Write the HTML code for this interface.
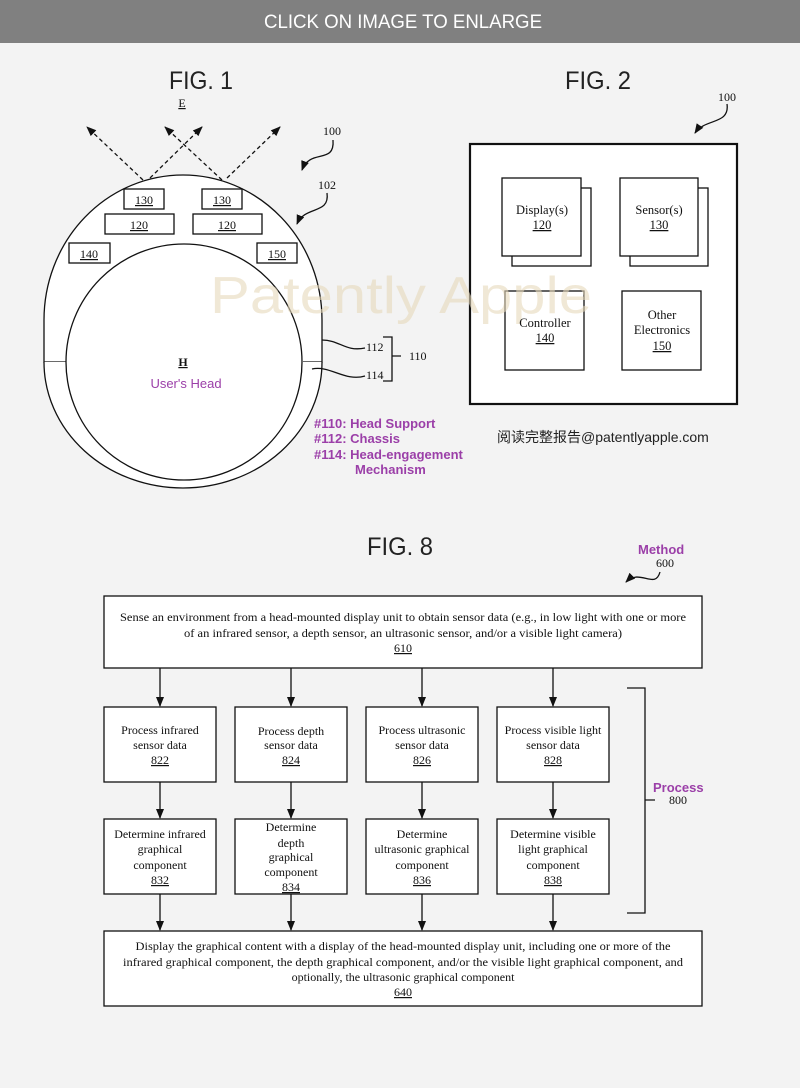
<!DOCTYPE html>
<html><head><meta charset="utf-8"><style>
html,body{margin:0;padding:0;background:#f3f3f3;}
svg{display:block;}
.s{font-family:"Liberation Serif",serif;fill:#111;}
.f{font-family:"Liberation Sans",sans-serif;fill:#222;}
.p{font-family:"Liberation Sans",sans-serif;fill:#9b3fa8;font-weight:bold;}
</style></head><body>
<svg width="800" height="1088" viewBox="0 0 800 1088" xmlns="http://www.w3.org/2000/svg">
<defs>
<marker id="a" markerWidth="10" markerHeight="10" refX="9" refY="5" orient="auto" markerUnits="userSpaceOnUse"><path d="M0,1 L10,5 L0,9 z" fill="#111"/></marker>
</defs>
<rect x="0" y="0" width="800" height="1088" fill="#f3f3f3"/>
<rect x="0" y="0" width="800" height="43" fill="#808080"/>
<text x="403" y="28" text-anchor="middle" class="f" style="fill:#fff;font-size:19px" textLength="278" lengthAdjust="spacingAndGlyphs">CLICK ON IMAGE TO ENLARGE</text>
<text x="201" y="89" text-anchor="middle" class="f" style="font-size:25px" textLength="64" lengthAdjust="spacingAndGlyphs">FIG. 1</text>
<text x="598" y="89" text-anchor="middle" class="f" style="font-size:25px" textLength="66" lengthAdjust="spacingAndGlyphs">FIG. 2</text>
<text x="400" y="555" text-anchor="middle" class="f" style="font-size:25px" textLength="66" lengthAdjust="spacingAndGlyphs">FIG. 8</text>

<!-- FIG 1 -->
<g stroke="#111" stroke-width="1.3" fill="none">
<path d="M66,362 L44,362 L44,320 A139,145 0 0 1 322,320 L322,362 L303,362" fill="#fff"/>
<path d="M44,362 A139,126 0 0 0 322,362" fill="#fff"/>
<circle cx="184" cy="362" r="118" fill="#fff"/>
<rect x="124" y="189" width="40" height="20" fill="#fff"/>
<rect x="202" y="189" width="40" height="20" fill="#fff"/>
<rect x="105" y="214" width="69" height="20" fill="#fff"/>
<rect x="193" y="214" width="69" height="20" fill="#fff"/>
<rect x="69" y="243" width="41" height="20" fill="#fff"/>
<rect x="257" y="243" width="40" height="20" fill="#fff"/>
<g stroke-dasharray="4,3">
<line x1="143" y1="180" x2="87" y2="127" marker-end="url(#a)"/>
<line x1="150" y1="178" x2="202" y2="127" marker-end="url(#a)"/>
<line x1="222" y1="180" x2="165" y2="127" marker-end="url(#a)"/>
<line x1="227" y1="178" x2="280" y2="127" marker-end="url(#a)"/>
</g>
<path d="M333,140 C335,165 310,148 302,170" marker-end="url(#a)"/>
<path d="M327,193 C330,215 305,205 297,224" marker-end="url(#a)"/>
<path d="M322,340 C340,340 345,352 365,348"/>
<path d="M312,369 C330,365 345,382 365,376"/>
<path d="M383,337 L392,337 L392,381 L383,381 M392,356 L401,356"/>
</g>
<g class="s" style="font-size:12px" text-anchor="middle" text-decoration="underline">
<text x="144" y="204">130</text><text x="222" y="204">130</text>
<text x="139" y="229">120</text><text x="227" y="229">120</text>
<text x="89" y="258">140</text><text x="277" y="258">150</text>
<text x="182" y="107">E</text>
<text x="183" y="366" style="font-weight:bold">H</text>
</g>
<g class="s" style="font-size:12px">
<text x="323" y="135">100</text><text x="318" y="189">102</text>
<text x="366" y="351">112</text><text x="366" y="379">114</text><text x="409" y="360">110</text>
</g>
<text x="186" y="388" text-anchor="middle" class="f" style="fill:#9b3fa8;font-size:13px">User's Head</text>
<g class="p" style="font-size:13px">
<text x="314" y="428">#110: Head Support</text>
<text x="314" y="443">#112: Chassis</text>
<text x="314" y="459">#114: Head-engagement</text>
<text x="355" y="474">Mechanism</text>
</g>

<!-- FIG 2 -->
<g stroke="#111" fill="#fff">
<rect x="470" y="144" width="267" height="260" stroke-width="2.2"/>
<g stroke-width="1.3">
<rect x="512" y="188" width="79" height="78"/><rect x="502" y="178" width="79" height="78"/>
<rect x="630" y="188" width="78" height="78"/><rect x="620" y="178" width="78" height="78"/>
<rect x="505" y="291" width="79" height="79"/><rect x="622" y="291" width="79" height="79"/>
</g>
<path d="M727,104 C730,125 705,118 695,133" fill="none" stroke-width="1.3" marker-end="url(#a)"/>
</g>
<text x="210" y="313" class="f" style="fill:#e6d9bb;font-size:52px;fill-opacity:0.6" textLength="382" lengthAdjust="spacingAndGlyphs">Patently Apple</text>
<g class="s" style="font-size:12.5px" text-anchor="middle">
<text x="542" y="214">Display(s)</text><text x="542" y="229" text-decoration="underline">120</text>
<text x="659" y="214">Sensor(s)</text><text x="659" y="229" text-decoration="underline">130</text>
<text x="545" y="327">Controller</text><text x="545" y="342" text-decoration="underline">140</text>
<text x="662" y="319">Other</text><text x="662" y="334">Electronics</text><text x="662" y="350" text-decoration="underline">150</text>
</g>
<text x="718" y="101" class="s" style="font-size:12px">100</text>
<text x="497" y="442" class="f" style="font-family:'Liberation Sans','Noto Sans CJK SC',sans-serif;font-size:14px;fill:#222">阅读完整报告@patentlyapple.com</text>

<!-- FIG 8 -->
<text x="638" y="554" class="p" style="font-size:13px">Method</text>
<text x="656" y="567" class="s" style="font-size:12px">600</text>
<path d="M660,572 C655,590 640,568 626,582" fill="none" stroke="#111" stroke-width="1.3" marker-end="url(#a)"/>
<g stroke="#111" stroke-width="1.3" fill="#fff">
<rect x="104" y="596" width="598" height="72"/>
<rect x="104" y="707" width="112" height="75"/><rect x="235" y="707" width="112" height="75"/>
<rect x="366" y="707" width="112" height="75"/><rect x="497" y="707" width="112" height="75"/>
<rect x="104" y="819" width="112" height="75"/><rect x="235" y="819" width="112" height="75"/>
<rect x="366" y="819" width="112" height="75"/><rect x="497" y="819" width="112" height="75"/>
<rect x="104" y="931" width="598" height="75"/>
<g fill="none">
<line x1="160" y1="668" x2="160" y2="706" marker-end="url(#a)"/><line x1="291" y1="668" x2="291" y2="706" marker-end="url(#a)"/>
<line x1="422" y1="668" x2="422" y2="706" marker-end="url(#a)"/><line x1="553" y1="668" x2="553" y2="706" marker-end="url(#a)"/>
<line x1="160" y1="782" x2="160" y2="818" marker-end="url(#a)"/><line x1="291" y1="782" x2="291" y2="818" marker-end="url(#a)"/>
<line x1="422" y1="782" x2="422" y2="818" marker-end="url(#a)"/><line x1="553" y1="782" x2="553" y2="818" marker-end="url(#a)"/>
<line x1="160" y1="894" x2="160" y2="930" marker-end="url(#a)"/><line x1="291" y1="894" x2="291" y2="930" marker-end="url(#a)"/>
<line x1="422" y1="894" x2="422" y2="930" marker-end="url(#a)"/><line x1="553" y1="894" x2="553" y2="930" marker-end="url(#a)"/>
<path d="M627,688 L645,688 L645,913 L627,913 M645,800 L655,800"/>
</g>
</g>
<text x="653" y="792" class="p" style="font-size:13px">Process</text>
<text x="669" y="804" class="s" style="font-size:12px">800</text>
<g class="s" style="font-size:12px" text-anchor="middle">
<text x="403" y="621" textLength="566" lengthAdjust="spacingAndGlyphs">Sense an environment from a head-mounted display unit to obtain sensor data (e.g., in low light with one or more</text>
<text x="403" y="637" textLength="438" lengthAdjust="spacingAndGlyphs">of an infrared sensor, a depth sensor, an ultrasonic sensor, and/or a visible light camera)</text>
<text x="403" y="652" text-decoration="underline">610</text>
<text x="160" y="734">Process infrared</text><text x="160" y="749">sensor data</text><text x="160" y="764" text-decoration="underline">822</text>
<text x="291" y="735">Process depth</text><text x="291" y="749">sensor data</text><text x="291" y="764" text-decoration="underline">824</text>
<text x="422" y="734">Process ultrasonic</text><text x="422" y="749">sensor data</text><text x="422" y="764" text-decoration="underline">826</text>
<text x="553" y="734">Process visible light</text><text x="553" y="749">sensor data</text><text x="553" y="764" text-decoration="underline">828</text>
<text x="160" y="838">Determine infrared</text><text x="160" y="853">graphical</text><text x="160" y="869">component</text><text x="160" y="884" text-decoration="underline">832</text>
<text x="291" y="831">Determine</text><text x="291" y="847">depth</text><text x="291" y="861">graphical</text><text x="291" y="876">component</text><text x="291" y="891" text-decoration="underline">834</text>
<text x="422" y="838">Determine</text><text x="422" y="853">ultrasonic graphical</text><text x="422" y="869">component</text><text x="422" y="884" text-decoration="underline">836</text>
<text x="553" y="838">Determine visible</text><text x="553" y="853">light graphical</text><text x="553" y="869">component</text><text x="553" y="884" text-decoration="underline">838</text>
<text x="403" y="950" textLength="535" lengthAdjust="spacingAndGlyphs">Display the graphical content with a display of the head-mounted display unit, including one or more of the</text>
<text x="403" y="966" textLength="560" lengthAdjust="spacingAndGlyphs">infrared graphical component, the depth graphical component, and/or the visible light graphical component, and</text>
<text x="403" y="981">optionally, the ultrasonic graphical component</text>
<text x="403" y="996" text-decoration="underline">640</text>
</g>
</svg>
</body></html>
